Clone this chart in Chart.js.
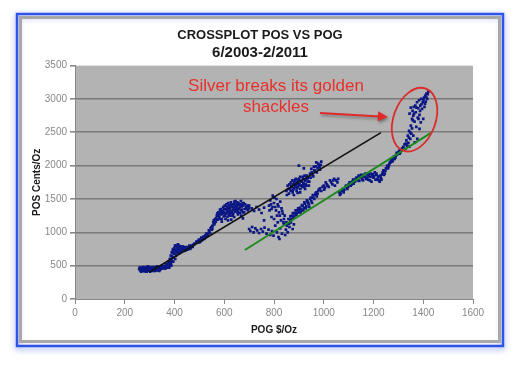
<!DOCTYPE html>
<html><head><meta charset="utf-8">
<script src="https://cdn.jsdelivr.net/npm/chart.js@4/dist/chart.umd.min.js"></script>
<style>html,body{margin:0;padding:0;background:#fff}</style>
</head><body>
<canvas id="c" width="520" height="367"></canvas>
<script>
// ---------- DATA ----------
const chartTitle = "CROSSPLOT POS VS POG";
const chartSubtitle = "6/2003-2/2011";
const xAxisTitle = "POG $/Oz";
const yAxisTitle = "POS Cents/Oz";
const xTicks = [0, 200, 400, 600, 800, 1000, 1200, 1400, 1600];
const yTicks = [0, 500, 1000, 1500, 2000, 2500, 3000, 3500];
const calloutLines = ["Silver breaks its golden", "shackles"];

// [POG $/Oz, POS cents/Oz] — 2003-2008 upper band
const upperBand = [
 [258,450],[262,430],[265,470],[268,445],[270,420],[272,460],[275,480],[278,440],[280,415],[282,455],
 [285,470],[287,430],[290,445],[292,490],[295,425],[297,460],[300,440],[302,410],[305,470],[307,450],
 [310,430],[312,480],[315,455],[318,440],[320,470],[322,420],[325,460],[328,445],[330,490],[333,435],
 [335,465],[338,450],[340,480],[342,440],[345,470],[348,455],[350,500],[353,475],[356,460],[358,490],
 [260,470],[266,410],[273,440],[279,470],[284,420],[289,465],[294,445],[299,480],[304,430],[309,455],
 [314,420],[319,450],[324,480],[329,430],[334,455],[339,420],[344,450],[264,455],[276,425],[288,410],
 [298,470],[316,470],[336,480],
 [360,470],[363,455],[366,480],[368,500],[370,470],[372,520],[375,490],[377,540],[380,510],[382,560],
 [384,600],[386,530],[388,580],[390,640],[392,560],[394,700],[396,620],[398,760],[400,680],[402,800],
 [404,720],[406,650],[408,780],[410,740],[412,700],[414,820],[416,760],[418,680],[420,730],[423,790],
 [426,710],[430,750],[434,770],[438,720],[442,760],[446,740],[450,780],[455,760],[460,800],[465,770],
 [470,790],[475,810],[365,520],[371,490],[376,560],[381,600],[385,650],[389,700],[393,740],[397,680],
 [401,740],[405,800],[409,690],[413,760],[417,800],[421,700],[425,760],[428,730],[432,790],[436,745],
 [440,780],[444,730],[448,770],[452,740],[458,780],[463,750],[468,800],[473,780],[478,820],[379,470],
 [387,500],[395,560],[403,600],
 [480,830],[488,860],[495,870],[500,850],[505,900],[510,880],[515,920],[520,900],[525,960],[530,940],
 [535,980],[540,1010],[545,1060],[550,1040],[553,1100],[556,1150],[560,1120],[563,1200],[498,890],[503,860],
 [508,920],[513,900],[518,940],[523,920],[528,980],[533,960],[538,1030],[543,990],[548,1080],[552,1060],
 [558,1180],[562,1140],
 [566,1160],[570,1250],[573,1190],[576,1300],[580,1230],[583,1340],[586,1270],[590,1200],[593,1320],[596,1380],
 [600,1290],[603,1250],[606,1350],[609,1420],[612,1300],[615,1370],[618,1260],[621,1330],[624,1400],[627,1450],
 [630,1310],[633,1380],[636,1280],[639,1420],[642,1350],[645,1470],[648,1330],[651,1390],[654,1300],[657,1440],
 [660,1360],[663,1420],[666,1330],[670,1390],[674,1300],[678,1440],[682,1350],[688,1380],[695,1330],[700,1400],
 [605,1200],[615,1180],[625,1250],[640,1230],[655,1270],[668,1250],[590,1160],[598,1240],[628,1190],[646,1400],
 [662,1290],[675,1210],[610,1330],[635,1340],[650,1430],[620,1410],[585,1300],[600,1350],
 [568,1210],[572,1280],[578,1260],[582,1200],[588,1350],[592,1280],[597,1310],[602,1400],[607,1280],[611,1380],
 [616,1440],[619,1300],[623,1360],[626,1290],[631,1420],[634,1250],[637,1380],[641,1460],[644,1310],[647,1370],
 [652,1450],[656,1350],[659,1410],[664,1380],[667,1470],[671,1340],[676,1400],[680,1300],[684,1420],[690,1350],
 [694,1400],[698,1360],[613,1230],[632,1320],[653,1330],[672,1430],
 [710,1360],[720,1320],[730,1380],[740,1340],[750,1290],[760,1370],
 [780,1400],[785,1480],[790,1350],[795,1550],[800,1440],[805,1380],[810,1500],[815,1420],[820,1300],[825,1460],
 [830,1360],[835,1280],[840,1200],[812,1250],[828,1180],[782,1330],[788,1420],[794,1380],[802,1520],[808,1330],
 [818,1390],[823,1250],[833,1320],[838,1150],[843,1250],
 [850,1620],[855,1700],[860,1580],[865,1650],[868,1750],[872,1680],[875,1600],[878,1720],[882,1660],[885,1780],
 [888,1700],[891,1620],[894,1750],[897,1680],[900,1800],[903,1720],[906,1650],[909,1770],[912,1700],[915,1830],
 [918,1740],[921,1680],[924,1790],[928,1720],[932,1850],[936,1760],[940,1700],[945,1880],[950,1950],[955,1870],
 [960,1980],[965,1920],[970,2050],[975,1960],[980,2000],[985,1940],[900,2000],[920,1960],[990,2060],[938,1820],
 [880,1560],[895,1590],[852,1560],[857,1650],[862,1720],[867,1620],[870,1700],[874,1780],[877,1640],[881,1750],
 [884,1690],[887,1800],[890,1730],[893,1660],[896,1790],[899,1720],[902,1770],[905,1830],[908,1700],[911,1760],
 [914,1680],[917,1800],[920,1720],[923,1850],[926,1770],[930,1700],[934,1800],[942,1760],[947,1820],[952,1900],
 [958,1840],[962,1930],[968,1990],[972,1900],[978,2030],[983,1980],[988,2010],[905,1600],[925,1650]
];

// [POG, POS] — 2008 crash and 2009-2010 lower band
const lowerBand = [
 [700,1050],[705,1020],[712,1080],[718,1000],[725,1060],[732,1030],[740,990],[748,1050],[755,1010],[762,1070],
 [770,980],[778,1040],[785,960],[792,1020],[798,950],[805,1100],[812,1000],[818,930],[825,1060],[832,980],
 [840,1120],[848,1040],[855,1000],[862,1080],[868,1150],[875,1050],[880,1120],[822,900],[845,960],
 [760,1180],[790,1230],[800,1200],[815,1150],
 [850,1150],[858,1200],[865,1180],[872,1250],[878,1220],[885,1290],[890,1260],[895,1330],[900,1300],[905,1370],
 [910,1340],[915,1400],[920,1370],[925,1430],[930,1390],[935,1460],[940,1420],[945,1500],[950,1470],[958,1520],
 [965,1560],[970,1600],[975,1580],[980,1640],[990,1620],[1000,1700],[1005,1670],[1012,1720],[1020,1680],[1030,1750],
 [852,1100],[860,1130],[866,1240],[870,1200],[876,1290],[882,1250],[887,1330],[892,1290],[897,1360],[902,1340],
 [907,1300],[912,1410],[918,1330],[922,1450],[928,1360],[932,1480],[938,1440],[942,1380],[948,1520],[953,1440],
 [956,1560],[962,1500],[967,1580],[972,1540],[978,1620],[985,1660],[995,1680],[1002,1640],[1008,1750],[1015,1700],
 [1025,1780],[1035,1720],[1042,1800],[1055,1750],
 [1038,1780],[1045,1700],[1050,1780],[1058,1800],[1065,1560],[1072,1620],[1080,1600],[1088,1680],[1095,1650],[1100,1720],
 [1062,1600],[1068,1580],[1075,1650],[1083,1640],[1090,1700],[1098,1680],[1104,1750],[1112,1720],[1118,1790],[1125,1760],
 [1132,1820],
 [1108,1700],[1115,1760],[1120,1730],[1128,1800],[1135,1780],[1140,1850],[1148,1820],[1155,1790],[1160,1860],[1165,1830],
 [1170,1800],[1175,1870],[1180,1840],[1185,1780],[1190,1880],[1195,1850],[1200,1820],[1205,1900],[1210,1860],[1215,1790],
 [1220,1840],[1225,1760],[1230,1810],[1235,1870],[1240,1930],[1245,1880],
 [1138,1800],[1143,1770],[1150,1860],[1153,1830],[1158,1780],[1162,1840],[1168,1880],[1172,1820],[1178,1790],[1182,1870],
 [1188,1830],[1192,1760],[1198,1870],[1202,1840],[1208,1790],[1212,1880],[1218,1820],[1222,1780],[1228,1850],[1232,1790],
 [1237,1900],[1242,1860],[1248,1920],
 [1250,1960],[1255,2000],[1260,1980],[1265,2040],[1270,2080],[1275,2060],[1280,2120],[1285,2100],[1290,2150],[1295,2170],
 [1300,2200],[1305,2180],[1310,2230],[1258,1960],[1263,2010],[1268,2050],[1273,2100],[1278,2080],[1283,2140],[1288,2120],
 [1293,2190],[1298,2180],[1303,2220],[1308,2200],[1315,2260]
];

// [POG, POS] — late 2010 / early 2011 breakout
const breakout = [
 [1320,2280],[1325,2320],[1328,2250],[1332,2380],[1335,2300],[1338,2450],[1340,2340],[1343,2520],[1345,2290],[1348,2400],
 [1350,2600],[1352,2480],[1355,2700],[1357,2820],[1360,2750],[1362,2880],[1365,2660],[1368,2900],[1370,2800],[1372,2580],
 [1375,2950],[1378,2720],[1380,2860],[1383,2980],[1385,2760],[1388,2900],[1390,2650],[1392,3000],[1395,2850],[1398,2950],
 [1400,2700],[1403,3020],[1405,2880],[1408,3050],[1410,2960],[1413,3080],[1416,3000],[1420,3110],[1360,2450],[1345,2780],
 [1350,2870],[1366,2350],[1385,2550],[1376,2400],[1330,2330],[1342,2420],[1355,2560],[1363,2780],[1373,2870],[1381,2700],
 [1387,2820],[1393,2920],[1401,2980],[1407,2930],[1412,3030],[1418,3070],[1358,2680],[1347,2500]
];

// Trend lines drawn on the chart: [POG, POS] end points
const blackTrend = [[300,405],[1230,2495]];
const greenTrend = [[683,735],[1431,2490]];

// Callout anchors in data units
const ellipseCenter = [1365, 2690];
const arrowFrom = [985, 2790];
const arrowTo = [1258, 2730];
const calloutAnchor = [808, 3185, 2870];

// ---------- CHART ----------
const toPts = a => a.map(p => ({x: p[0], y: p[1]}));

const framePlugin = {
  id: 'frame',
  beforeDraw(chart) {
    const ctx = chart.ctx, ca = chart.chartArea;
    ctx.save();
    ctx.fillStyle = '#ffffff';
    ctx.fillRect(0, 0, chart.width, chart.height);
    ctx.shadowColor = 'rgba(40,70,230,0.55)';
    ctx.shadowBlur = 6;
    ctx.shadowOffsetY = 2;
    ctx.strokeStyle = '#2f55e6';
    ctx.lineWidth = 2.5;
    ctx.strokeRect(17, 14, 486, 332);
    ctx.shadowColor = 'transparent';
    ctx.strokeStyle = '#a8a8a8';
    ctx.lineWidth = 3;
    ctx.strokeRect(20.5, 17.5, 479, 324);
    ctx.fillStyle = '#b3b3b3';
    ctx.fillRect(ca.left, ca.top, ca.right - ca.left, ca.bottom - ca.top);
    ctx.restore();
  }
};

const calloutPlugin = {
  id: 'callout',
  afterDatasetsDraw(chart) {
    const ctx = chart.ctx, xs = chart.scales.x, ys = chart.scales.y;
    ctx.save();
    const cx = xs.getPixelForValue(ellipseCenter[0]), cy = ys.getPixelForValue(ellipseCenter[1]);
    ctx.strokeStyle = '#dc2b2b';
    ctx.lineWidth = 1.8;
    ctx.beginPath();
    ctx.ellipse(cx, cy, 21, 33, 0.35, 0, Math.PI * 2);
    ctx.stroke();
    const x1 = xs.getPixelForValue(arrowFrom[0]), y1 = ys.getPixelForValue(arrowFrom[1]);
    const x2 = xs.getPixelForValue(arrowTo[0]), y2 = ys.getPixelForValue(arrowTo[1]);
    const ang = Math.atan2(y2 - y1, x2 - x1);
    ctx.shadowColor = 'rgba(0,0,0,0.35)';
    ctx.shadowBlur = 3; ctx.shadowOffsetX = 1; ctx.shadowOffsetY = 2;
    ctx.strokeStyle = '#e02a2a';
    ctx.fillStyle = '#e02a2a';
    ctx.lineWidth = 2;
    ctx.beginPath();
    ctx.moveTo(x1, y1);
    ctx.lineTo(x2 - 8 * Math.cos(ang), y2 - 8 * Math.sin(ang));
    ctx.stroke();
    ctx.beginPath();
    ctx.moveTo(x2, y2);
    ctx.lineTo(x2 - 10 * Math.cos(ang) + 5 * Math.sin(ang), y2 - 10 * Math.sin(ang) - 5 * Math.cos(ang));
    ctx.lineTo(x2 - 10 * Math.cos(ang) - 5 * Math.sin(ang), y2 - 10 * Math.sin(ang) + 5 * Math.cos(ang));
    ctx.closePath();
    ctx.fill();
    ctx.shadowColor = 'transparent';
    ctx.fillStyle = '#e8302c';
    ctx.font = '17px "Liberation Sans", Arial, sans-serif';
    ctx.textAlign = 'center';
    ctx.textBaseline = 'middle';
    const tx = xs.getPixelForValue(calloutAnchor[0]);
    ctx.fillText(calloutLines[0], tx, ys.getPixelForValue(calloutAnchor[1]));
    ctx.fillText(calloutLines[1], tx, ys.getPixelForValue(calloutAnchor[2]));
    ctx.restore();
  }
};

const tickColor = '#888888';
const fontFam = '"Liberation Sans", Arial, sans-serif';
const pointStyleOpts = {pointStyle: 'rect', pointRadius: 1.9, backgroundColor: '#0b1784', borderColor: '#0b1784', borderWidth: 0, order: 1};

new Chart(document.getElementById('c'), {
  type: 'scatter',
  data: {
    datasets: [
      {label: 'black trend', type: 'line', data: toPts(blackTrend), borderColor: '#111111', borderWidth: 1.6, pointRadius: 0, fill: false, order: 0},
      {label: 'green trend', type: 'line', data: toPts(greenTrend), borderColor: '#1d8a1d', borderWidth: 2, pointRadius: 0, fill: false, order: 0},
      Object.assign({label: 'upper', data: toPts(upperBand)}, pointStyleOpts),
      Object.assign({label: 'lower', data: toPts(lowerBand)}, pointStyleOpts),
      Object.assign({label: 'breakout', data: toPts(breakout)}, pointStyleOpts)
    ]
  },
  options: {
    responsive: false,
    animation: false,
    devicePixelRatio: 1,
    layout: {padding: {left: 22, right: 22, top: 28, bottom: 28}},
    plugins: {
      legend: {display: false},
      tooltip: {enabled: false},
      title: {display: true, text: chartTitle, color: '#1a1a1a', font: {family: fontFam, size: 13, weight: 'bold', lineHeight: 1.2}, padding: {top: 0, bottom: 0}},
      subtitle: {display: true, text: chartSubtitle, color: '#1a1a1a', font: {family: fontFam, size: 15, weight: 'bold', lineHeight: 1.2}, padding: {top: 0, bottom: 4}}
    },
    scales: {
      x: {
        type: 'linear', position: 'bottom', min: 0, max: 1600,
        afterBuildTicks: s => { s.ticks = xTicks.map(v => ({value: v})); },
        afterFit: s => { s.height = 40; },
        ticks: {color: tickColor, font: {family: fontFam, size: 10}, padding: 3, maxRotation: 0, callback: v => String(v)},
        grid: {drawOnChartArea: false, drawTicks: true, tickLength: 5, tickColor: tickColor},
        border: {display: true, color: tickColor, width: 1},
        title: {display: true, text: xAxisTitle, color: '#1a1a1a', font: {family: fontFam, size: 10, weight: 'bold', lineHeight: 1.2}, padding: {top: 0, bottom: 3}}
      },
      y: {
        type: 'linear', position: 'left', min: 0, max: 3500,
        afterBuildTicks: s => { s.ticks = yTicks.map(v => ({value: v})); },
        afterFit: s => { s.width = 53; },
        ticks: {color: tickColor, font: {family: fontFam, size: 10}, padding: 3, callback: v => String(v)},
        grid: {drawTicks: true, tickLength: 5, tickColor: tickColor, lineWidth: 1.6,
               color: c => (c.tick && (c.tick.value === 3500 || c.tick.value === 0)) ? 'rgba(0,0,0,0)' : '#7a7a7a'},
        border: {display: true, color: tickColor, width: 1},
        title: {display: true, text: yAxisTitle, color: '#1a1a1a', font: {family: fontFam, size: 10, weight: 'bold', lineHeight: 1.2}, padding: {top: 9, bottom: 0}}
      },
      yRight: {
        type: 'linear', position: 'right', min: 0, max: 3500, display: true,
        afterFit: s => { s.width = 25; },
        ticks: {display: false},
        grid: {display: false, drawTicks: false},
        border: {display: false},
        title: {display: false}
      }
    }
  },
  plugins: [framePlugin, calloutPlugin]
});
</script>
</body></html>
